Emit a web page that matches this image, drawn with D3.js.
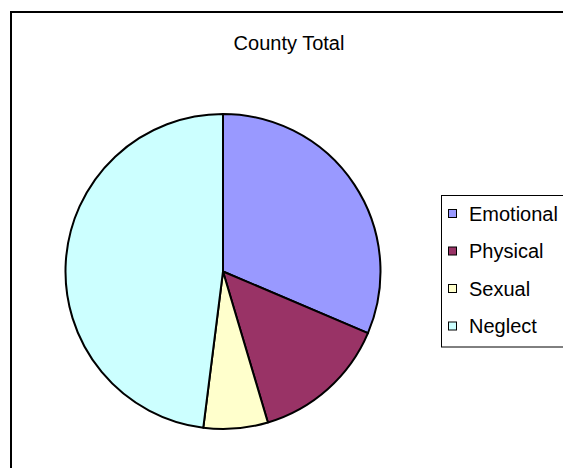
<!DOCTYPE html>
<html>
<head>
<meta charset="utf-8">
<script src="https://cdn.jsdelivr.net/npm/d3@7"></script>
<style>
  html, body { margin: 0; padding: 0; background: #fff; }
  svg { display: block; }
  text { font-family: Arial, "Liberation Sans", sans-serif; fill: #000; }
</style>
</head>
<body>
<svg id="chart" width="563" height="468"></svg>
<script>
const categories = ["Emotional", "Physical", "Sexual", "Neglect"];
const values = [31.4, 14.0, 6.6, 48.0];
const colors = ["#9999FF", "#993366", "#FFFFCC", "#CCFFFF"];
const title = "County Total";

const svg = d3.select("#chart");
const W = 563, H = 468;

// outer chart border (clipped by window on right/bottom)
svg.append("rect")
  .attr("x", 11).attr("y", 12)
  .attr("width", W + 10).attr("height", H + 10)
  .attr("fill", "#fff").attr("stroke", "#000").attr("stroke-width", 2);

svg.append("text")
  .attr("x", 289).attr("y", 50)
  .attr("text-anchor", "middle")
  .attr("font-size", 20)
  .text(title);

const cx = 223, cy = 271.5, r = 157.5;
const data = categories.map((c, i) => ({ name: c, value: values[i], color: colors[i] }));
const pie = d3.pie().value(d => d.value).sort(null);
const arc = d3.arc().innerRadius(0).outerRadius(r);

svg.append("g").attr("transform", `translate(${cx},${cy})`)
  .selectAll("path")
  .data(pie(data))
  .join("path")
  .attr("d", arc)
  .attr("fill", d => d.data.color)
  .attr("stroke", "#000")
  .attr("stroke-width", 2)
  .attr("stroke-linejoin", "round");

// legend
const lx = 441.5, ly = 195.5;
svg.append("rect")
  .attr("x", lx).attr("y", ly)
  .attr("width", 140).attr("height", 151.5)
  .attr("fill", "#fff").attr("stroke", "#000").attr("stroke-width", 1);

const y = d3.scalePoint().domain(categories).range([213.5, 326]);
const lg = svg.append("g").selectAll("g").data(data).join("g")
  .attr("transform", d => `translate(0,${y(d.name)})`);
lg.append("rect")
  .attr("x", 448.5).attr("y", -4)
  .attr("width", 8).attr("height", 8)
  .attr("fill", d => d.color)
  .attr("stroke", "#000").attr("stroke-width", 1);
lg.append("text")
  .attr("x", 469).attr("y", 0)
  .attr("dy", "0.36em")
  .attr("font-size", 20)
  .text(d => d.name);
</script>
</body>
</html>
